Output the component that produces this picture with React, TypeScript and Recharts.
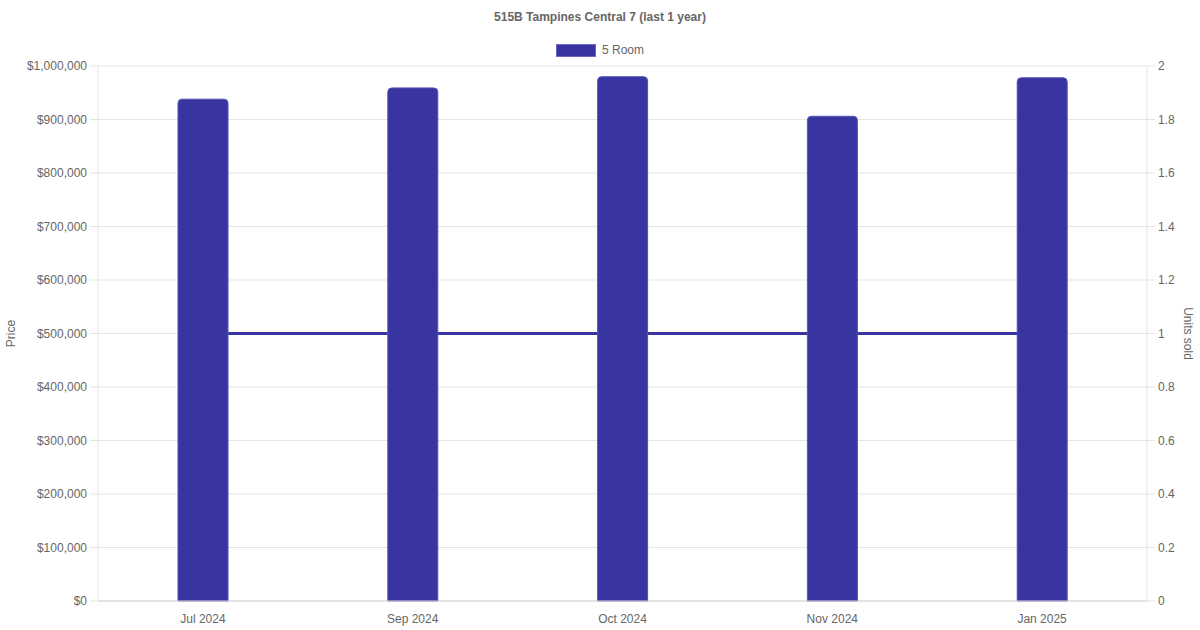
import React from 'react';
import { ComposedChart, Bar, Line, XAxis, YAxis, CartesianGrid } from 'recharts';

const months = ['Jul 2024', 'Sep 2024', 'Oct 2024', 'Nov 2024', 'Jan 2025'];
const prices = [938000, 959000, 980000, 906000, 978000];
const unitsSold = [1, 1, 1, 1, 1];
const priceTicks = [0, 100000, 200000, 300000, 400000, 500000, 600000, 700000, 800000, 900000, 1000000];
const unitTicks = [0, 0.2, 0.4, 0.6, 0.8, 1, 1.2, 1.4, 1.6, 1.8, 2];

const data = months.map((m, i) => ({ month: m, price: prices[i], units: unitsSold[i] }));

const FONT = '"Liberation Sans", Arial, Helvetica, sans-serif';
const TEXT = '#666666';
const GRID = '#e5e5e5';
const PURPLE = '#3935a0';

export default function App() {
    return (
        <div style={{ position: 'absolute', left: 0, top: 0, width: 1200, height: 630, background: '#fff' }}>
            <div style={{ position: 'absolute', top: 10, left: 0, width: 1200, textAlign: 'center', fontFamily: FONT, fontSize: 12, fontWeight: 'bold', color: TEXT }}>
                515B Tampines Central 7 (last 1 year)
            </div>
            {/* legend */}
            <div style={{ position: 'absolute', top: 43, left: 0, width: 1200, display: 'flex', justifyContent: 'center', alignItems: 'center', fontFamily: FONT, fontSize: 12, color: TEXT }}>
                <div style={{ width: 38, height: 11, background: PURPLE, border: '1px solid #6c69c4', marginRight: 6 }} />
                <span>5 Room</span>
            </div>
            <ComposedChart width={1200} height={630} data={data} margin={{ top: 66, right: 0, bottom: 0, left: 0 }}>
                <CartesianGrid vertical={false} stroke={GRID} yAxisId="price" />
                <XAxis
                    dataKey="month"
                    height={29}
                    tickLine={false}
                    tickSize={0}
                    tickMargin={13}
                    stroke="#d4d4d4"
                    tick={{ fill: TEXT, fontSize: 12, fontFamily: FONT }}
                />
                <YAxis
                    yAxisId="price"
                    orientation="left"
                    width={98}
                    domain={[0, 1000000]}
                    ticks={priceTicks}
                    interval={0}
                    tickSize={8}
                    tickMargin={3}
                    stroke={GRID}
                    tick={{ fill: TEXT, fontSize: 12, fontFamily: FONT }}
                    tickFormatter={(v: number) => '$' + v.toLocaleString('en-US')}
                    label={{ value: 'Price', angle: -90, position: 'insideLeft', offset: 11, fill: TEXT, fontSize: 12, fontFamily: FONT, style: { textAnchor: 'middle' } }}
                />
                <YAxis
                    yAxisId="units"
                    orientation="right"
                    width={53}
                    domain={[0, 2]}
                    ticks={unitTicks}
                    interval={0}
                    tickSize={8}
                    tickMargin={3}
                    stroke={GRID}
                    tick={{ fill: TEXT, fontSize: 12, fontFamily: FONT }}
                    tickFormatter={(v: number) => String(Math.round(v * 10) / 10)}
                    label={{ value: 'Units sold', angle: 90, position: 'insideRight', offset: 12, fill: TEXT, fontSize: 12, fontFamily: FONT, style: { textAnchor: 'middle' } }}
                />
                <Line
                    yAxisId="units"
                    dataKey="units"
                    type="linear"
                    stroke={PURPLE}
                    strokeWidth={3}
                    dot={false}
                    activeDot={false}
                    zIndex={250}
                    isAnimationActive={false}
                />
                <Bar
                    yAxisId="price"
                    dataKey="price"
                    name="5 Room"
                    barSize={50}
                    fill={PURPLE}
                    stroke="#5652b8"
                    strokeWidth={1}
                    radius={[4, 4, 0, 0]}
                    isAnimationActive={false}
                />
            </ComposedChart>
        </div>
    );
}
